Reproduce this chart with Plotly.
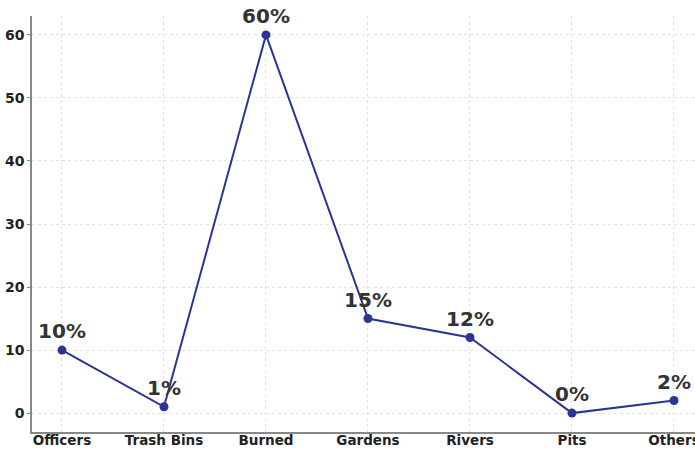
import plotly.graph_objects as go

categories = ["Officers", "Trash Bins", "Burned", "Gardens", "Rivers", "Pits", "Others"]
percentages = [10, 1, 60, 15, 12, 0, 2]
y_ticks = [0, 10, 20, 30, 40, 50, 60]

line_color = "#2b3592"
label_text = [f"{v}%" for v in percentages]

fig = go.Figure()
fig.add_trace(go.Scatter(
    x=list(range(len(categories))),
    y=percentages,
    mode="lines+markers+text",
    line=dict(color=line_color, width=2),
    marker=dict(color=line_color, size=9),
    text=label_text,
    textposition="top center",
    textfont=dict(family="DejaVu Sans", size=20, color="#333333", weight="bold"),
    cliponaxis=False,
    hoverinfo="skip",
))

fig.update_layout(
    width=695,
    height=450,
    margin=dict(l=32, r=0, t=16, b=18, autoexpand=False),
    paper_bgcolor="white",
    plot_bgcolor="white",
    showlegend=False,
    font=dict(family="DejaVu Sans", color="#222222"),
)

fig.update_xaxes(
    tickmode="array",
    tickvals=list(range(len(categories))),
    ticktext=categories,
    range=[-0.294, 6.206],
    automargin=False,
    ticklabeloverflow="allow",
    ticklabelstandoff=-5,
    showgrid=True,
    gridcolor="#e2e2e2",
    griddash="dot",
    gridwidth=1,
    showline=True,
    linecolor="#888888",
    linewidth=1.5,
    ticks="",
    tickfont=dict(family="DejaVu Sans", size=13.5, color="#222222", weight="bold"),
    zeroline=False,
)

fig.update_yaxes(
    tickmode="array",
    tickvals=y_ticks,
    range=[-3.0, 63.0],
    automargin=False,
    showgrid=True,
    gridcolor="#e2e2e2",
    griddash="dot",
    gridwidth=1,
    showline=True,
    linecolor="#888888",
    linewidth=1.5,
    ticks="outside",
    ticklen=3,
    tickcolor="#888888",
    tickfont=dict(family="DejaVu Sans", size=14, color="#222222", weight="bold"),
    zeroline=False,
)

fig.write_html("out.html")
